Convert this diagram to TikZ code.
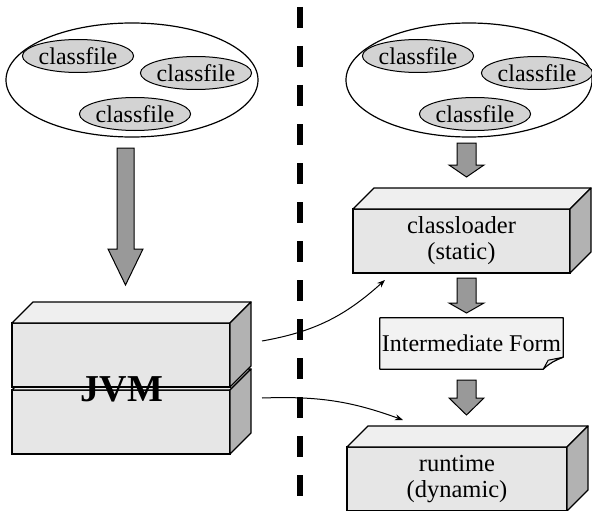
\documentclass[tikz,border=0pt]{standalone}
\usepackage{fontspec}
\setmainfont{Liberation Serif}
\usetikzlibrary{shapes.geometric,calc,arrows.meta}

\definecolor{boxfront}{HTML}{E6E6E6}
\definecolor{boxtop}{HTML}{EFEFEF}
\definecolor{boxside}{HTML}{B2B2B2}
\definecolor{arrowgray}{HTML}{999999}
\definecolor{filegray}{HTML}{D3D3D3}
\definecolor{paper}{HTML}{F2F2F2}

\tikzset{
  txt/.style={font=\fontsize{24.5}{26}\selectfont, align=center},
  frontface/.style={draw=black, line width=1.3pt, fill=boxfront, inner sep=0pt, outer sep=0pt, txt},
  topface/.style={draw=black, line width=1.3pt, fill=boxtop, line join=round},
  sideface/.style={draw=black, line width=1.3pt, fill=boxside, line join=round},
  pool/.style={ellipse, draw=black, line width=1.2pt, fill=white, inner sep=0pt},
  classfile/.style={ellipse, draw=black, line width=1pt, fill=filegray, inner sep=0pt,
    minimum width=86pt, minimum height=33pt, font=\fontsize{24}{26}\selectfont},
  blockarrow/.style={draw=black, line width=1pt, fill=arrowgray, line join=miter},
  link/.style={draw=black, line width=1pt, -{Stealth[length=8pt,width=6pt]}},
  divider/.style={line width=5.5pt, dash pattern=on 21pt off 18pt},
}

% top and side faces of a box whose front face is node #1
\newcommand\boxfaces[1]{%
  \draw[topface] (#1.north west) -- ++(21,-21) -- ($(#1.north east)+(21,-21)$) -- (#1.north east) -- cycle;
  \draw[sideface] (#1.north east) -- ++(21,-21) -- ($(#1.south east)+(21,-21)$) -- (#1.south east) -- cycle;
}

% downward block arrow: centre x, top y, head start y, tip y, shaft half width, head half width
\newcommand\blockdown[6]{%
  \draw[blockarrow] (#1-#5,#2) -- (#1+#5,#2) -- (#1+#5,#3) -- (#1+#6,#3) -- (#1,#4)
    -- (#1-#6,#3) -- (#1-#5,#3) -- cycle;
}

\begin{document}
\begin{tikzpicture}[x=1pt,y=-1pt]
\useasboundingbox (0,0) rectangle (592,511);

% dashed divider
\draw[divider] (300,7) -- (300,511);

% left pool of class files
\node[pool, minimum width=252pt, minimum height=114pt] (poolL) at (132,80) {};
\node[classfile] (cfL1) at (78,56) {classfile};
\node[classfile] (cfL2) at (196,73) {classfile};
\node[classfile] (cfL3) at (135,114) {classfile};

% right pool of class files
\node[pool, minimum width=246pt, minimum height=114pt] (poolR) at (469,80) {};
\node[classfile] (cfR1) at (418,56) {classfile};
\node[classfile] (cfR2) at (537,73) {classfile};
\node[classfile] (cfR3) at (475,114) {classfile};

% big arrow into the JVM
\blockdown{125.5}{148}{249}{285}{8.5}{17.5}

% JVM made of two stacked boxes
\node[frontface, minimum width=218pt, minimum height=64pt] (jvmb) at (121,422) {};
\boxfaces{jvmb}
\node[frontface, minimum width=218pt, minimum height=64pt] (jvmt) at (121,355) {};
\boxfaces{jvmt}
\node[font=\fontsize{38}{40}\selectfont\bfseries] (jvm) at (122,389) {JVM};

% right-hand pipeline
\blockdown{466.5}{143}{165}{177}{9.5}{17.5}
\node[frontface, minimum width=217pt, minimum height=64pt] (loader) at (461.5,241) {classloader\\(static)};
\boxfaces{loader}

\blockdown{466.5}{278}{303}{313}{9.5}{17.5}

% intermediate form sheet with a folded corner
\node[font=\fontsize{24}{26}\selectfont, inner sep=0pt, minimum width=183pt, minimum height=51pt] (inter) at (471.5,343.5) {};
\draw[line width=1.2pt, fill=paper, line join=round]
  (inter.north west) -- (inter.north east) -- ($(inter.south east)+(0,-12)$)
  .. controls ($(inter.south east)+(-8,-9)$) and ($(inter.south east)+(-14,-6)$) .. ($(inter.south east)+(-20,0)$)
  -- (inter.south west) -- cycle;
\draw[line width=1pt, fill=boxfront, line join=round]
  ($(inter.south east)+(-20,0)$) -- ($(inter.south east)+(-15,-9)$) -- ($(inter.south east)+(0,-12)$)
  .. controls ($(inter.south east)+(-8,-9)$) and ($(inter.south east)+(-14,-6)$) .. cycle;
\node[font=\fontsize{24}{26}\selectfont, inner sep=0pt] at (inter) {Intermediate Form};

\blockdown{466.5}{380}{398}{415}{9.5}{17.5}
\node[frontface, minimum width=220pt, minimum height=64pt] (runtime) at (457,479) {runtime\\(dynamic)};
\boxfaces{runtime}

% links from the JVM layers to their parts
\coordinate (fromTop) at ($(jvmt.east)+(32,-14)$);
\coordinate (fromBot) at ($(jvmb.east)+(32,-24)$);
\coordinate (toLoader) at ($(loader.south west)+(32,7)$);
\coordinate (toRuntime) at ($(runtime.north west)+(56,-27)$);
\draw[link] (fromTop) to[out=10, in=222] (toLoader);
\draw[link] (fromBot) to[out=2, in=160] (toRuntime);
\end{tikzpicture}
\end{document}
